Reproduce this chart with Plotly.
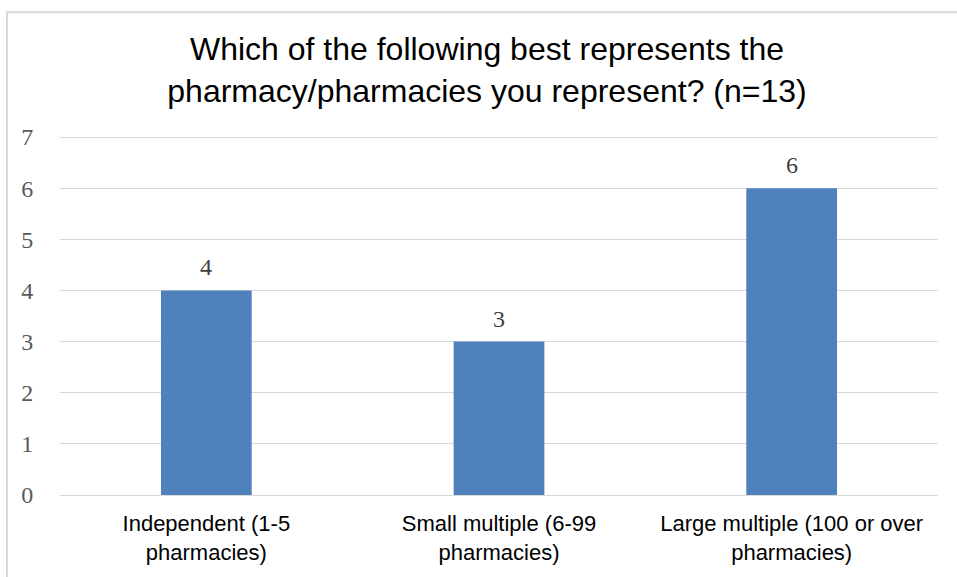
import plotly.graph_objects as go

categories = ["Independent (1-5<br>pharmacies)", "Small multiple (6-99<br>pharmacies)", "Large multiple (100 or over<br>pharmacies)"]
counts = [4, 3, 6]
y_ticks = [0, 1, 2, 3, 4, 5, 6, 7]
title_text = "Which of the following best represents the<br>pharmacy/pharmacies you represent? (n=13)"

W, H = 957, 577
L, R, T, B = 60, 19, 136, 77

fig = go.Figure(go.Bar(
    x=categories, y=counts,
    marker=dict(color="#4F81BD", line=dict(width=0)),
    cliponaxis=False,
))

for c, v in zip(categories, counts):
    fig.add_annotation(x=c, y=v, text=str(v), showarrow=False,
                       yanchor="middle", yshift=23,
                       font=dict(family="Liberation Serif", size=24, color="#404040"))

pw = W - L - R
ph = H - T - B
fig.add_shape(type="rect", xref="paper", yref="paper",
              x0=(7 - L) / pw, x1=(W + 10 - L) / pw,
              y0=(H - B - (H + 10)) / ph, y1=(H - B - 10.5) / ph,
              line=dict(color="#d9d9d9", width=2), fillcolor="rgba(0,0,0,0)", layer="below")

fig.update_layout(
    width=W, height=H,
    margin=dict(l=L, r=R, t=T, b=B),
    paper_bgcolor="white", plot_bgcolor="white",
    bargap=0.69,
    showlegend=False,
    title=dict(text=title_text, x=487 / W, xref="container", xanchor="center",
               y=1 - 60 / H, yanchor="middle",
               font=dict(family="Liberation Sans", size=32, color="#000000")),
    xaxis=dict(showgrid=False, showline=False, zeroline=False,
               ticks="outside", ticklen=9, tickcolor="rgba(0,0,0,0)",
               tickfont=dict(family="Liberation Sans", size=22, color="#000000")),
    yaxis=dict(range=[0, 7.02], tickvals=y_ticks, showgrid=True, gridcolor="#d9d9d9", gridwidth=1.3,
               zeroline=True, zerolinecolor="#d9d9d9", zerolinewidth=1.3, showline=False,
               ticks="outside", ticklen=21, tickcolor="rgba(0,0,0,0)",
               tickfont=dict(family="Liberation Serif", size=24, color="#595959")),
)

fig.write_html("out.html", config={"displayModeBar": False},
               post_script="document.body.style.margin='0';document.body.style.overflow='hidden';")
